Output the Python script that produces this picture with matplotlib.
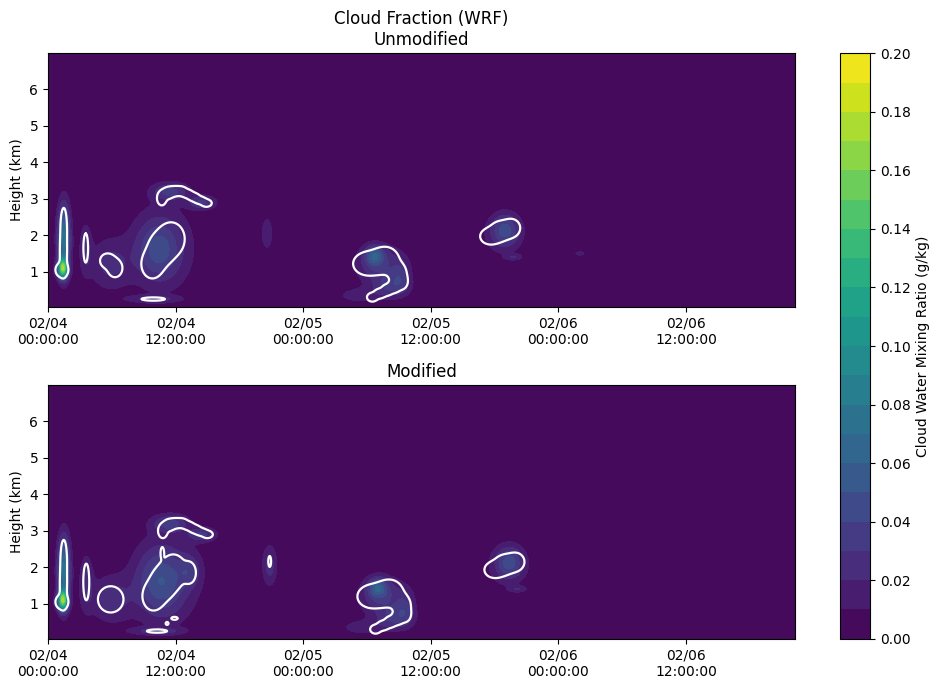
"""Cloud water mixing ratio (shaded) and cloud fraction (white line) from WRF,
unmodified vs. modified run, as time-height sections."""
import matplotlib
matplotlib.use("Agg")
import matplotlib.dates as mdates
import matplotlib.pyplot as plt
import numpy as np

START = np.datetime64("2019-02-04T00:00")
T_END_H = 70.25          # hours after start shown on the x axis
Z_BOT_KM, Z_TOP_KM = 0.04, 6.99
LEVELS = np.round(np.arange(0.0, 0.2001, 0.01), 2)
CBAR_TICKS = np.round(np.arange(0.0, 0.2001, 0.02), 2)

# ---- cloud water cells: centre (h, km), spread (h, km), peak (g/kg)
QC_T_UNMOD = [1.5, 1.4, 1.3, 3.55, 5.8, 10.4, 11.0, 11.5, 14.5, 9.9, 20.6,
              31.2, 30.7, 32.3, 29.3, 33.2, 43.0, 42.8, 43.8, 50.0]
QC_Z_UNMOD = [1.9, 1.1, 1.05, 1.65, 1.2, 1.6, 1.7, 3.2, 2.9, 0.25, 2.05,
              1.2, 1.45, 0.6, 0.35, 0.9, 2.15, 2.0, 1.4, 1.5]
QC_ST_UNMOD = [0.42, 0.28, 0.55, 0.4, 1.4, 1.5, 2.6, 1.2, 0.9, 1.8, 0.4,
               1.6, 0.6, 1.2, 1.6, 0.6, 0.9, 1.6, 0.6, 0.4]
QC_SZ_UNMOD = [0.65, 0.18, 0.17, 0.5, 0.5, 0.6, 1.0, 0.17, 0.13, 0.07, 0.35,
               0.38, 0.18, 0.22, 0.15, 0.3, 0.3, 0.45, 0.06, 0.05]
QC_PK_UNMOD = [0.075, 0.12, 0.02, 0.02, 0.022, 0.035, 0.012, 0.03, 0.03, 0.02, 0.018,
               0.03, 0.04, 0.025, 0.015, 0.02, 0.035, 0.012, 0.016, 0.015]

QC_T_MOD = [1.5, 1.4, 1.3, 3.6, 5.9, 10.6, 11.4, 11.5, 14.5, 10.2, 20.85,
            31.5, 31.0, 32.7, 29.6, 33.6, 43.4, 43.2, 44.2, 13.3]
QC_Z_MOD = [1.9, 1.1, 1.05, 1.6, 1.12, 1.6, 1.7, 3.2, 2.9, 0.25, 2.05,
            1.2, 1.45, 0.6, 0.35, 0.9, 2.15, 2.0, 1.4, 1.9]
QC_ST_MOD = [0.42, 0.28, 0.55, 0.45, 1.4, 1.6, 2.7, 1.2, 0.9, 1.8, 0.5,
             1.6, 0.6, 1.2, 1.6, 0.6, 0.9, 1.6, 0.6, 0.7]
QC_SZ_MOD = [0.65, 0.18, 0.17, 0.55, 0.45, 0.65, 1.0, 0.17, 0.13, 0.07, 0.4,
             0.38, 0.18, 0.22, 0.15, 0.3, 0.3, 0.45, 0.06, 0.3]
QC_PK_MOD = [0.075, 0.12, 0.02, 0.022, 0.024, 0.038, 0.013, 0.03, 0.03, 0.02, 0.025,
             0.03, 0.04, 0.025, 0.015, 0.02, 0.035, 0.012, 0.016, 0.02]

# ---- cloud fraction cells: centre (h, km) and half-size of the 0.5 outline (h, km)
CF_T_UNMOD = [1.48, 1.45, 1.3, 3.55,
              5.6, 6.3,
              9.8, 10.6, 11.6,
              10.7, 11.3, 11.9, 12.5, 13.1, 13.7, 14.3, 14.9, 9.9,
              30.1, 31.7, 32.9, 30.5, 31.2, 31.9, 32.6, 33.3,
              41.6, 42.6, 43.6]
CF_Z_UNMOD = [2.2, 1.5, 1.05, 1.65,
              1.3, 1.1,
              1.2, 1.6, 1.9,
              3.02, 3.16, 3.21, 3.22, 3.14, 3.05, 2.96, 2.88, 0.25,
              1.22, 1.32, 0.95, 0.3, 0.4, 0.5, 0.6, 0.72,
              1.97, 2.12, 2.2]
CF_RT_UNMOD = [0.3, 0.33, 0.6, 0.22,
               0.7, 0.7,
               1.0, 1.2, 1.25,
               0.45, 0.55, 0.55, 0.55, 0.55, 0.55, 0.55, 0.5, 1.1,
               1.4, 1.3, 0.8, 0.5, 0.55, 0.55, 0.55, 0.5,
               0.95, 1.0, 0.8]
CF_RZ_UNMOD = [0.55, 0.55, 0.2, 0.4,
               0.2, 0.25,
               0.38, 0.45, 0.45,
               0.2, 0.16, 0.13, 0.12, 0.11, 0.11, 0.1, 0.1, 0.045,
               0.32, 0.36, 0.28, 0.12, 0.13, 0.15, 0.17, 0.19,
               0.22, 0.27, 0.24]

CF_T_MOD = [1.48, 1.45, 1.3, 3.6,
            5.9,
            9.9, 10.8, 11.8, 13.3, 10.75,
            10.8, 11.4, 12.0, 12.6, 13.2, 13.8, 14.4, 15.0, 10.25, 11.2, 11.9,
            20.85,
            30.5, 32.1, 33.3, 30.8, 31.5, 32.2, 32.9, 33.6,
            42.0, 43.0, 44.0]
CF_Z_MOD = [2.2, 1.5, 1.05, 1.6,
            1.12,
            1.2, 1.55, 1.9, 1.85, 2.4,
            3.0, 3.16, 3.21, 3.22, 3.14, 3.05, 2.97, 2.9, 0.25, 0.46, 0.6,
            2.16,
            1.2, 1.3, 0.95, 0.3, 0.4, 0.5, 0.6, 0.7,
            1.93, 2.08, 2.15]
CF_RT_MOD = [0.3, 0.33, 0.6, 0.28,
             1.2,
             1.0, 1.2, 1.2, 0.6, 0.15,
             0.45, 0.55, 0.55, 0.55, 0.55, 0.55, 0.55, 0.5, 0.95, 0.13, 0.3,
             0.13,
             1.4, 1.3, 0.8, 0.5, 0.55, 0.55, 0.55, 0.5,
             0.95, 1.0, 0.8]
CF_RZ_MOD = [0.55, 0.55, 0.2, 0.5,
             0.36,
             0.38, 0.45, 0.45, 0.28, 0.15,
             0.2, 0.16, 0.13, 0.12, 0.11, 0.11, 0.1, 0.1, 0.045, 0.04, 0.04,
             0.15,
             0.32, 0.36, 0.28, 0.12, 0.13, 0.15, 0.17, 0.19,
             0.22, 0.27, 0.24]


def gaussian_field(tt, zz, tc, zc, st, sz, peak):
    out = np.zeros_like(tt)
    for a, b, c, d, p in zip(tc, zc, st, sz, peak):
        out += p * np.exp(-0.5 * (((tt - a) / c) ** 2 + ((zz - b) / d) ** 2))
    return out


def cloud_fraction(tt, zz, tc, zc, rt, rz, n=2):
    # each cell has its 0.5 outline at the given half-size; cells are joined
    # with a soft maximum so the outline is close to the union of the cells
    k = np.sqrt(2 * np.log(2))
    acc = np.zeros_like(tt)
    for a, b, c, d in zip(tc, zc, rt, rz):
        g = np.exp(-0.5 * (((tt - a) / (c / k)) ** 2 + ((zz - b) / (d / k)) ** 2))
        acc += g ** n
    return acc ** (1.0 / n)


hours = np.arange(0.0, T_END_H + 1e-6, 0.05)
heights = np.arange(Z_BOT_KM, Z_TOP_KM + 1e-6, 0.01)
tt, zz = np.meshgrid(hours, heights)
times = START + (hours * 3600).astype("timedelta64[s]")
tnum = mdates.date2num(times.astype("datetime64[ms]").astype(object))

panels = [
    ("Cloud Fraction (WRF)\nUnmodified",
     gaussian_field(tt, zz, QC_T_UNMOD, QC_Z_UNMOD, QC_ST_UNMOD, QC_SZ_UNMOD, QC_PK_UNMOD),
     cloud_fraction(tt, zz, CF_T_UNMOD, CF_Z_UNMOD, CF_RT_UNMOD, CF_RZ_UNMOD)),
    ("Modified",
     gaussian_field(tt, zz, QC_T_MOD, QC_Z_MOD, QC_ST_MOD, QC_SZ_MOD, QC_PK_MOD),
     cloud_fraction(tt, zz, CF_T_MOD, CF_Z_MOD, CF_RT_MOD, CF_RZ_MOD)),
]

fig = plt.figure(figsize=(9.39, 6.9), dpi=100)
ax_top = fig.add_axes([0.0511, 0.5555, 0.7955, 0.3672])
ax_bot = fig.add_axes([0.0511, 0.0743, 0.7955, 0.3672])
cax = fig.add_axes([0.8946, 0.0743, 0.032, 0.8484])

for ax, (title, qc, cf) in zip([ax_top, ax_bot], panels):
    cs = ax.contourf(tnum, heights, np.clip(qc, 0, 0.1999), levels=LEVELS,
                     cmap="viridis")
    ax.contour(tnum, heights, cf, levels=[0.5], colors="white", linewidths=1.6)
    ax.set_title(title)
    ax.set_ylabel("Height (km)")
    ax.set_xlim(tnum[0], tnum[-1])
    ax.set_ylim(heights[0], heights[-1])
    ax.xaxis.set_major_locator(mdates.HourLocator(byhour=[0, 12]))
    ax.xaxis.set_major_formatter(mdates.DateFormatter("%m/%d\n%H:%M:%S"))

cb = fig.colorbar(cs, cax=cax, ticks=CBAR_TICKS)
cb.set_label("Cloud Water Mixing Ratio (g/kg)")
cb.ax.yaxis.set_major_formatter(matplotlib.ticker.FormatStrFormatter("%.2f"))

fig.savefig("out.png", dpi=100)
